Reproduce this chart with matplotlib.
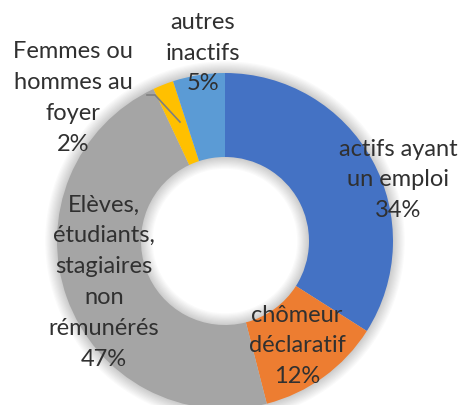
import matplotlib
matplotlib.use("Agg")
import matplotlib.pyplot as plt
import numpy as np

# données
labels = ["actifs ayant\nun emploi", "chômeur\ndéclaratif",
          "Elèves,\nétudiants,\nstagiaires\nnon\nrémunérés",
          "Femmes ou\nhommes au\nfoyer", "autres\ninactifs"]
values = [34, 12, 47, 2, 5]
colors = ["#4472C4", "#ED7D31", "#A5A5A5", "#FFC000", "#5B9BD5"]

# label centres in pixels (x, y from top)
label_px = [(398, 180), (297, 346), (104, 282), (73, 98), (203, 53)]

W, H = 464, 405
cx, cy, R = 225, 241, 168

fig = plt.figure(figsize=(W / 100, H / 100), dpi=100)
ax = fig.add_axes([(cx - R) / W, (H - cy - R) / H, 2 * R / W, 2 * R / H])

# soft shadow round the ring
for k in range(10):
    ax.pie([1], radius=1.0 + 0.007 * (k + 1), colors=["k"],
           wedgeprops=dict(width=0.5 + 0.014 * (k + 1), alpha=0.018, linewidth=0))

ax.pie(values, colors=colors, startangle=90, counterclock=False,
       wedgeprops=dict(width=0.5, linewidth=0))

ax.set_xlim(-1, 1)
ax.set_ylim(-1, 1)
ax.set_aspect("equal")
ax.axis("off")

def to_data(px, py):
    return (px - cx) / R, (cy - py) / R

for lab, v, (px, py) in zip(labels, values, label_px):
    x, y = to_data(px, py)
    ax.text(x, y, f"{lab}\n{v}%", ha="center", va="center", fontsize=17,
            color="#303030", family="Lato", linespacing=1.58, clip_on=False)

# leader line for the small slice
pts = [to_data(147, 95), to_data(155, 95), to_data(180, 122)]
ax.plot([p[0] for p in pts], [p[1] for p in pts], color="#7F7F7F", lw=1.2,
        clip_on=False)

fig.savefig("out.png", dpi=100)
